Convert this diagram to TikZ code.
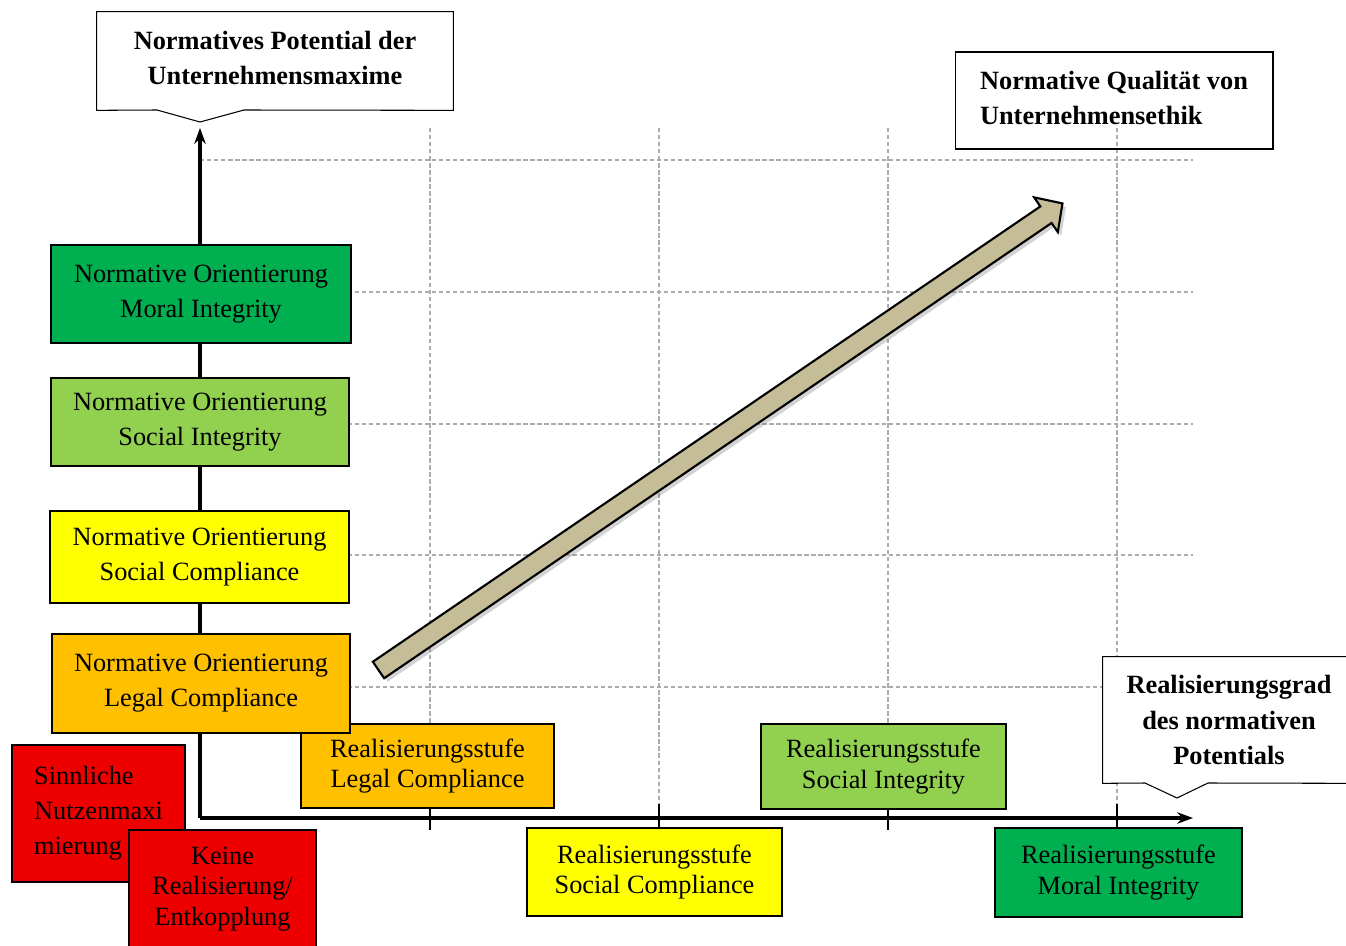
\documentclass[tikz,border=0pt]{standalone}
\usepackage{fontspec}
\setmainfont{Liberation Serif}
\usetikzlibrary{arrows.meta, shadows}

\definecolor{moralgreen}{HTML}{00B050}
\definecolor{socialgreen}{HTML}{92D050}
\definecolor{complyellow}{HTML}{FFFF00}
\definecolor{legalorange}{HTML}{FFC000}
\definecolor{decoupred}{HTML}{EE0000}
\definecolor{arrowtan}{HTML}{C4BD97}

\begin{document}
\begin{tikzpicture}[x=0.02cm, y=-0.02cm,
        stufe/.style={draw, line width=1.3pt, align=center, inner sep=0pt, font=\fontsize{15}{20}\selectfont},
        hstufe/.style={stufe, font=\fontsize{15}{17.5}\selectfont},
        callout/.style={align=center, inner sep=0pt, font=\fontsize{15}{20}\selectfont\bfseries},
        gridline/.style={gray!65, line width=0.6pt, dash pattern=on 2.5pt off 1.5pt},
        axis/.style={line width=2pt, -{Stealth[length=9pt, width=6.5pt]}}]
        \useasboundingbox (0,0) rectangle (1346,946);
        \clip (0,0) rectangle (1346,946);
        
        % grid
        \foreach \x in {430,659,888,1117}
            \draw[gridline] (\x,128) -- (\x,818);
        \foreach \y in {160,292,424,555,687}
            \draw[gridline] (200,\y) -- (1193,\y);
        
        % axes
        \coordinate (origin) at (200,818);
        \coordinate (ytop) at (200,128);
        \coordinate (xend) at (1193,818);
        \draw[axis] (origin) -- (ytop);
        \draw[axis] (origin) -- (xend);
        \foreach \x in {430,659,888,1117}
            \draw[line width=1.4pt] (\x,804) -- (\x,830);
        
        % quality arrow
        \begin{scope}[shift={(378.5,670)}, rotate=34.3]
            \draw[line width=1.2pt, fill=arrowtan, drop shadow={shadow xshift=2pt, shadow yshift=-2pt, opacity=0.35}]
                (0,-10) -- (808,-10) -- (808,-21) -- (828,0) -- (808,21) -- (808,10) -- (0,10) -- cycle;
        \end{scope}
        
        % callouts
        \node[callout, minimum width=7.12cm, minimum height=1.96cm, text depth=0.12cm] (ytitle) at (275,61) {Normatives Potential der\\Unternehmensmaxime};
        \draw[line width=0.6pt] (ytitle.south west) -- (ytitle.north west) -- (ytitle.north east) -- (ytitle.south east)
            -- (244,110) -- (200,122) -- (157,110) -- cycle;
        \node[callout, draw, line width=0.6pt, align=left, minimum width=6.36cm, minimum height=1.94cm, text depth=0.12cm] (quality) at (1114,100.5) {Normative Qualität von\\Unternehmensethik};
        \node[callout, fill=white, minimum width=5.04cm, minimum height=2.52cm] (xtitle) at (1229,720) {Realisierungsgrad\\des normativen\\Potentials};
        \draw[line width=0.6pt] (xtitle.south east) -- (xtitle.north east) -- (xtitle.north west) -- (xtitle.south west)
            -- (1145,783) -- (1177,798) -- (1208,783) -- cycle;
        
        % realisation levels
        \node[hstufe, fill=legalorange, minimum width=5.06cm, minimum height=1.68cm] (hlegal) at (427.5,766) {Realisierungsstufe\\Legal Compliance};
        \node[hstufe, fill=complyellow, minimum width=5.1cm, minimum height=1.76cm] (hsoccomp) at (654.5,872) {Realisierungsstufe\\Social Compliance};
        \node[hstufe, fill=socialgreen, minimum width=4.9cm, minimum height=1.7cm] (hsocint) at (883.5,766.5) {Realisierungsstufe\\Social Integrity};
        \node[hstufe, fill=moralgreen, minimum width=4.94cm, minimum height=1.78cm] (hmoral) at (1118.5,872.5) {Realisierungsstufe\\Moral Integrity};
        
        % normative orientations
        \node[stufe, fill=moralgreen, minimum width=6cm, minimum height=1.96cm] (vmoral) at (201,294) {Normative Orientierung\\Moral Integrity};
        \node[stufe, fill=socialgreen, minimum width=5.96cm, minimum height=1.76cm] (vsocint) at (200,422) {Normative Orientierung\\Social Integrity};
        \node[stufe, fill=complyellow, minimum width=5.98cm, minimum height=1.84cm] (vsoccomp) at (199.5,557) {Normative Orientierung\\Social Compliance};
        \node[stufe, fill=legalorange, minimum width=5.96cm, minimum height=1.98cm] (vlegal) at (201,683.5) {Normative Orientierung\\Legal Compliance};
        
        % no realisation
        \node[stufe, fill=decoupred, align=left, minimum width=3.46cm, minimum height=2.74cm] (sinnlich) at (98.5,813.5) {Sinnliche\\Nutzenmaxi\\mierung};
        \node[hstufe, fill=decoupred, minimum width=3.74cm, minimum height=2.36cm] (keine) at (222.5,889) {Keine\\Realisierung/\\Entkopplung};
    \end{tikzpicture}
\end{document}
